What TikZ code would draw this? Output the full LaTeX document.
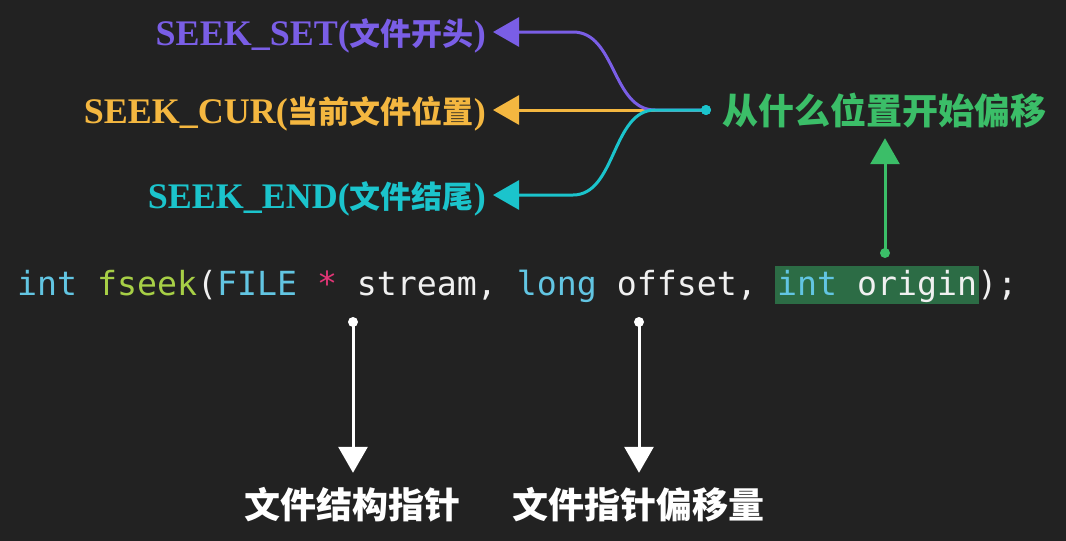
\documentclass[tikz,border=0pt]{standalone}
\usepackage{fontspec}
\usetikzlibrary{arrows.meta,calc}
\newfontfamily\cjkfont{Noto Sans CJK SC}
\newfontfamily\latinserif{Liberation Serif}
\newfontfamily\codefont{DejaVu Sans Mono}

\definecolor{bg}{HTML}{222222}
\definecolor{cpurple}{HTML}{7A5EE6}
\definecolor{corange}{HTML}{F4B740}
\definecolor{ccyan}{HTML}{1BC4CC}
\definecolor{cgreen}{HTML}{3BBE68}
\definecolor{hlgreen}{HTML}{2C6C45}
\definecolor{kwcolor}{HTML}{62C5E2}
\definecolor{fncolor}{HTML}{A7CF46}
\definecolor{starcolor}{HTML}{E23576}
\definecolor{codewhite}{HTML}{F0F0F0}

% mixed serif / CJK label of a whence constant
\newcommand\seeklabel[2]{{\latinserif\bfseries\fontsize{36}{36}\selectfont #1(}{\cjkfont\bfseries\fontsize{31}{31}\selectfont #2}{\latinserif\bfseries\fontsize{36}{36}\selectfont )}}
\newcommand\kw[1]{\textcolor{kwcolor}{#1}}
\newcommand\fn[1]{\textcolor{fncolor}{#1}}
\newcommand\st[1]{\textcolor{starcolor}{#1}}

\tikzset{
  seeklbl/.style={anchor=east, inner xsep=7pt, inner ysep=0pt, text height=32pt, text depth=6pt},
  codetext/.style={font=\codefont\fontsize{33.2}{33.2}\selectfont, text=codewhite, inner sep=0pt, anchor=base west},
  cjkbig/.style={font=\cjkfont\bfseries\fontsize{36}{36}\selectfont, inner sep=0pt, text height=45pt, text depth=14pt, anchor=base},
  tip/.style={-{Triangle[length=26pt,width=29pt]}},
  wire/.style={line width=3pt},
  dotw/.style={circle, fill=white, inner sep=0pt, minimum size=10pt},
}

\begin{document}
\begin{tikzpicture}[x=1pt,y=-1pt]
\useasboundingbox (0,0) rectangle (1066,541);
\fill[bg] (0,0) rectangle (1066,541);

% whence constants
\node[seeklbl, text=cpurple] (setlbl) at (493,32) {\seeklabel{SEEK\_SET}{文件开头}};
\node[seeklbl, text=corange] (curlbl) at (493,110) {\seeklabel{SEEK\_CUR}{当前文件位置}};
\node[seeklbl, text=ccyan] (endlbl) at (493,195) {\seeklabel{SEEK\_END}{文件结尾}};

% origin description
\node[font=\cjkfont\bfseries\fontsize{36}{36}\selectfont, text=cgreen, inner sep=0pt, text height=24pt, text depth=14pt, anchor=base west] (whence) at (722,124) {从什么位置开始偏移};

\node[circle, fill=ccyan, inner sep=0pt, minimum size=10pt] (hub) at (706,110) {};

% fan of connectors from the hub
\draw[wire, corange, tip] (hub.center) -- (curlbl.east);
\draw[wire, cpurple, tip] (hub.center) -- (655,110) .. controls (612,110) and (616,32) .. (573,32) -- (setlbl.east);
\draw[wire, ccyan, tip] (hub.center) -- (655,110) .. controls (612,110) and (616,195) .. (573,195) -- (endlbl.east);
\fill[ccyan] (hub) circle[radius=5pt];

% prototype
\node[codetext] (code) at (17,295) {\kw{int} \fn{fseek}(\kw{FILE} \st{*} stream, \kw{long} offset,};
\node[codetext, fill=hlgreen, inner xsep=2pt, text height=29pt, text depth=9pt] (origin) at ($(code.base east)+(18,0)$) {\kw{int} origin};
\node[codetext] (tail) at ($(origin.base east)+(-2,0)$) {);};

% argument annotations
\node[circle, fill=cgreen, inner sep=0pt, minimum size=10pt] (d3) at (885,253) {};
\draw[wire, cgreen, tip] (d3.center) -- (d3 |- whence.south);

\node[dotw] (d1) at (353,322) {};
\node[dotw] (d2) at (639,322) {};
\node[cjkbig, text=white] (lbl1) at (352,518) {文件结构指针};
\node[cjkbig, text=white] (lbl2) at (638,518) {文件指针偏移量};
\draw[wire, white, tip] (d1.center) -- (d1 |- lbl1.north);
\draw[wire, white, tip] (d2.center) -- (d2 |- lbl2.north);
\end{tikzpicture}
\end{document}
